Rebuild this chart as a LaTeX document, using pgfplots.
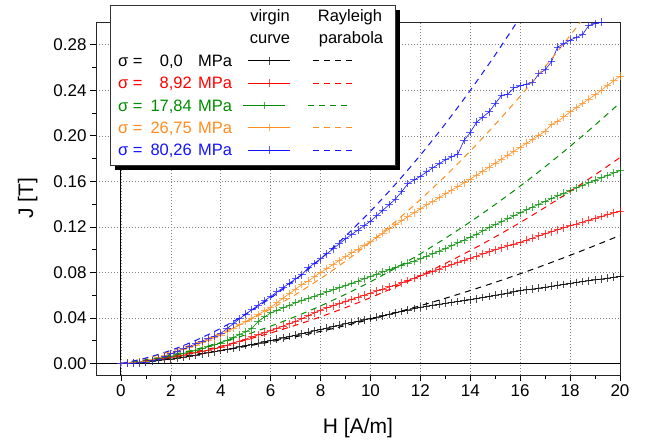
\documentclass[border=0pt]{standalone}
\usepackage{fontspec}
\setmainfont{Liberation Sans}
\usepackage{pgfplots}
\usepackage{pgfplotstable}
\pgfplotsset{compat=1.18}

\definecolor{cred}{RGB}{255,0,0}
\definecolor{cgreen}{RGB}{0,140,0}
\definecolor{corange}{RGB}{255,140,30}
\definecolor{cblue}{RGB}{20,20,255}

% virgin curves, J [T] against H [A/m]
\pgfplotstableread{
H     k0     k1     k2     k3     k4
0     0      0      0      0      0
0.25  0.0002 0.0003 0.0003 0.0002 0
0.5   0.0005 0.0008 0.0008 0.0006 0.0003
0.75  0.0010 0.0014 0.0014 0.0012 0.0007
1     0.0015 0.0020 0.0020 0.0020 0.0012
1.25  0.0021 0.0028 0.0031 0.0035 0.0025
1.5   0.0027 0.0036 0.0042 0.0052 0.0040
1.75  0.0033 0.0045 0.0054 0.0070 0.0062
2     0.0040 0.0055 0.0065 0.0090 0.0085
2.25  0.0048 0.0065 0.0077 0.0107 0.0107
2.5   0.0057 0.0075 0.0090 0.0125 0.0129
2.75  0.0066 0.0085 0.0103 0.0142 0.0151
3     0.0075 0.0095 0.0115 0.0160 0.0173
3.25  0.0085 0.0107 0.0131 0.0182 0.0196
3.5   0.0095 0.0119 0.0148 0.0205 0.0219
3.75  0.0104 0.0131 0.0164 0.0227 0.0242
4     0.0114 0.0143 0.0180 0.0250 0.0265
4.25  0.0125 0.0161 0.0205 0.0280 0.0308
4.5   0.0136 0.0179 0.0230 0.0310 0.0350
4.75  0.0147 0.0197 0.0255 0.0340 0.0393
5     0.0158 0.0215 0.0280 0.0370 0.0435
5.25  0.0169 0.0234 0.0310 0.0400 0.0474
5.5   0.0180 0.0253 0.0370 0.0432 0.0513
5.75  0.0191 0.0271 0.0410 0.0463 0.0551
6     0.0202 0.0290 0.0445 0.0495 0.0590
6.25  0.0214 0.0310 0.0467 0.0535 0.0629
6.5   0.0226 0.0330 0.0490 0.0575 0.0667
6.75  0.0238 0.0350 0.0512 0.0615 0.0706
7     0.0250 0.0370 0.0535 0.0655 0.0744
7.25  0.0262 0.0395 0.0554 0.0695 0.0780
7.5   0.0275 0.0420 0.0573 0.0725 0.0840
7.75  0.0287 0.0445 0.0591 0.0763 0.0880
8     0.0300 0.0470 0.0610 0.0800 0.0920
8.25  0.0312 0.0489 0.0629 0.0835 0.0964
8.5   0.0325 0.0508 0.0648 0.0870 0.1008
8.75  0.0337 0.0526 0.0666 0.0905 0.1052
9     0.0350 0.0545 0.0685 0.0940 0.1096
9.25  0.0361 0.0564 0.0705 0.0973 0.1135
9.5   0.0372 0.0583 0.0725 0.1005 0.1173
9.75  0.0384 0.0601 0.0745 0.1038 0.1212
10    0.0395 0.0620 0.0765 0.1070 0.1250
10.25 0.0408 0.0638 0.0785 0.1108 0.1299
10.5  0.0420 0.0655 0.0805 0.1145 0.1348
10.75 0.0433 0.0673 0.0825 0.1183 0.1396
11    0.0445 0.0690 0.0845 0.1220 0.1445
11.25 0.0458 0.0710 0.0864 0.1255 0.1510
11.5  0.0470 0.0730 0.0883 0.1290 0.1580
11.75 0.0483 0.0750 0.0901 0.1325 0.1613
12    0.0495 0.0770 0.0920 0.1360 0.1645
12.25 0.0504 0.0790 0.0943 0.1393 0.1683
12.5  0.0513 0.0810 0.0965 0.1425 0.1720
12.75 0.0521 0.0830 0.0988 0.1458 0.1755
13    0.0530 0.0850 0.1010 0.1490 0.1790
13.25 0.0538 0.0869 0.1035 0.1523 0.1815
13.5  0.0545 0.0888 0.1060 0.1555 0.1840
13.75 0.0553 0.0906 0.1085 0.1588 0.1960
14    0.0560 0.0925 0.1110 0.1620 0.2030
14.25 0.0570 0.0944 0.1135 0.1655 0.2120
14.5  0.0580 0.0963 0.1165 0.1690 0.2165
14.75 0.0590 0.0981 0.1195 0.1725 0.2210
15    0.0600 0.1000 0.1220 0.1760 0.2283
15.25 0.0610 0.1016 0.1246 0.1795 0.2356
15.5  0.0620 0.1033 0.1273 0.1830 0.2365
15.75 0.0630 0.1049 0.1299 0.1865 0.2423
16    0.0640 0.1065 0.1325 0.1900 0.2438
16.25 0.0648 0.1084 0.1350 0.1935 0.2454
16.5  0.0655 0.1103 0.1375 0.1970 0.2470
16.75 0.0663 0.1121 0.1400 0.2005 0.2546
17    0.0670 0.1140 0.1425 0.2040 0.2580
17.25 0.0679 0.1158 0.1449 0.2100 0.2650
17.5  0.0688 0.1175 0.1473 0.2127 0.2780
17.75 0.0696 0.1193 0.1496 0.2168 0.2810
18    0.0705 0.1210 0.1520 0.2210 0.2840
18.25 0.0713 0.1226 0.1543 0.2248 0.2865
18.5  0.0720 0.1243 0.1565 0.2285 0.2890
18.75 0.0728 0.1259 0.1588 0.2323 0.2970
19    0.0735 0.1275 0.1610 0.2360 0.2985
19.25 0.0743 0.1291 0.1631 0.2401 0.3000
19.5  0.0750 0.1308 0.1653 0.2443 nan
19.75 0.0758 0.1324 0.1674 0.2484 nan
20    0.0765 0.1340 0.1695 0.2525 nan
}\virgin

% Rayleigh parabolas
\pgfplotstableread{
H  k0     k1     k2     k3     k4
0  0      0      0      0      0
1  0.0023 0.0029 0.0034 0.0047 0.0049
2  0.0050 0.0064 0.0076 0.0107 0.0117
3  0.0080 0.0105 0.0126 0.0180 0.0204
4  0.0114 0.0153 0.0185 0.0267 0.0310
5  0.0151 0.0208 0.0253 0.0367 0.0434
6  0.0192 0.0269 0.0329 0.0480 0.0577
7  0.0236 0.0337 0.0414 0.0607 0.0739
8  0.0283 0.0411 0.0507 0.0747 0.0920
9  0.0334 0.0492 0.0609 0.0900 0.1120
10 0.0389 0.0579 0.0719 0.1067 0.1338
11 0.0447 0.0673 0.0838 0.1247 0.1575
12 0.0509 0.0773 0.0965 0.1441 0.1831
13 0.0574 0.0880 0.1101 0.1647 0.2106
14 0.0642 0.0993 0.1245 0.1867 0.2400
15 0.0714 0.1113 0.1398 0.2101 0.2712
16 0.0789 0.1239 0.1559 0.2348 0.3043
17 0.0868 0.1372 0.1729 0.2608 0.3393
18 0.0951 0.1512 0.1908 0.2881 0.3762
19 0.1037 0.1658 0.2095 0.3168 0.4150
20 0.1126 0.1810 0.2290 0.3468 0.4556
}\rayleigh

\pgfplotsset{
  virg/.style={line width=0.6pt, mark=+, mark size=3.8pt,
    mark options={solid, opacity=0.7, line width=1pt}},
  rayl/.style={line width=1pt, dash pattern=on 6pt off 5pt, smooth},
}

\begin{document}
\begin{tikzpicture}
\path (0pt,0pt) rectangle (654pt,445pt);
\begin{axis}[
    at={(96pt,70pt)}, anchor=south west,
    scale only axis, width=524pt, height=353pt,
    xmin=-1, xmax=20, ymin=-0.01, ymax=0.30,
    xtick={0,2,...,20},
    ytick={0,0.04,0.08,0.12,0.16,0.20,0.24,0.28},
    minor x tick num=1, minor y tick num=1,
    xtick pos=left, ytick pos=left,
    tick align=outside,
    major tick length=6pt, minor tick length=4pt,
    every tick/.style={black, line width=0.8pt},
    grid=major,
    major grid style={gray, line width=0.7pt, dash pattern=on 1pt off 2pt},
    axis line style={black!85, line width=1pt},
    yticklabel style={/pgf/number format/.cd, fixed, fixed zerofill, precision=2},
    /pgf/number format/assume math mode=true,
    tick label style={font=\fontsize{17}{20}\selectfont},
    label style={font=\fontsize{21}{24}\selectfont},
    xlabel={H [A/m]}, ylabel={J [T]},
    xlabel style={at={(axis description cs:0.5,-0.167)}, anchor=base},
    ylabel style={at={(axis description cs:-0.120,0.5)}, anchor=base},
  ]
  \draw[black, line width=1pt] (axis cs:0,-0.01) -- (axis cs:0,0.30);
  \draw[black, line width=1pt] (axis cs:-1,0) -- (axis cs:20,0);

  \addplot[virg, black]   table[x=H, y=k0] {\virgin};
  \addplot[virg, cred]    table[x=H, y=k1] {\virgin};
  \addplot[virg, cgreen]  table[x=H, y=k2] {\virgin};
  \addplot[virg, corange] table[x=H, y=k3] {\virgin};
  \addplot[virg, cblue]   table[x=H, y=k4] {\virgin};

  \addplot[rayl, black]   table[x=H, y=k0] {\rayleigh};
  \addplot[rayl, cred]    table[x=H, y=k1] {\rayleigh};
  \addplot[rayl, cgreen]  table[x=H, y=k2] {\rayleigh};
  \addplot[rayl, corange] table[x=H, y=k3] {\rayleigh};
  \addplot[rayl, cblue]   table[x=H, y=k4] {\rayleigh};
\end{axis}

% legend box with shadow
\begin{scope}[x=1pt, y=1pt]
\fill[black] (115,275) rectangle (400,435);
\filldraw[fill=white, draw=black!80, line width=0.6pt] (110,280) rectangle (395,440);
\begin{scope}[every node/.style={inner sep=0pt, font=\fontsize{16.5}{19}\selectfont}]
  \node[anchor=base] at (270,423) {virgin};
  \node[anchor=base] at (270,401.7) {curve};
  \node[anchor=base] at (350,423) {Rayleigh};
  \node[anchor=base] at (351,401.7) {parabola};

  \foreach \yb/\num/\ne/\col/\xa/\xb in {
      378.3/{0,0}/183/black/248/313,
      356/{8,92}/192/cred/248/313,
      333.7/{17,84}/192/cgreen/243/308,
      311.4/{26,75}/192/corange/248/313,
      289/{80,26}/192/cblue/248/313} {
    \node[anchor=base west, text=\col] at (118,\yb) {σ =};
    \node[anchor=base east, text=\col] at (\ne,\yb) {\num};
    \node[anchor=base west, text=\col] at (198,\yb) {MPa};
    \pgfmathsetmacro{\yc}{\yb+5.9}
    \draw[\col, line width=0.6pt] (\xa,\yc) -- ++(42,0);
    \draw[\col, opacity=0.7, line width=1pt] (\xa+21,\yc-3.8) -- ++(0,7.6) (\xa+17.2,\yc) -- ++(7.6,0);
    \draw[\col, line width=1pt, dash pattern=on 6pt off 5pt] (\xb,\yc) -- ++(39,0);
  }
\end{scope}
\end{scope}
\end{tikzpicture}
\end{document}
